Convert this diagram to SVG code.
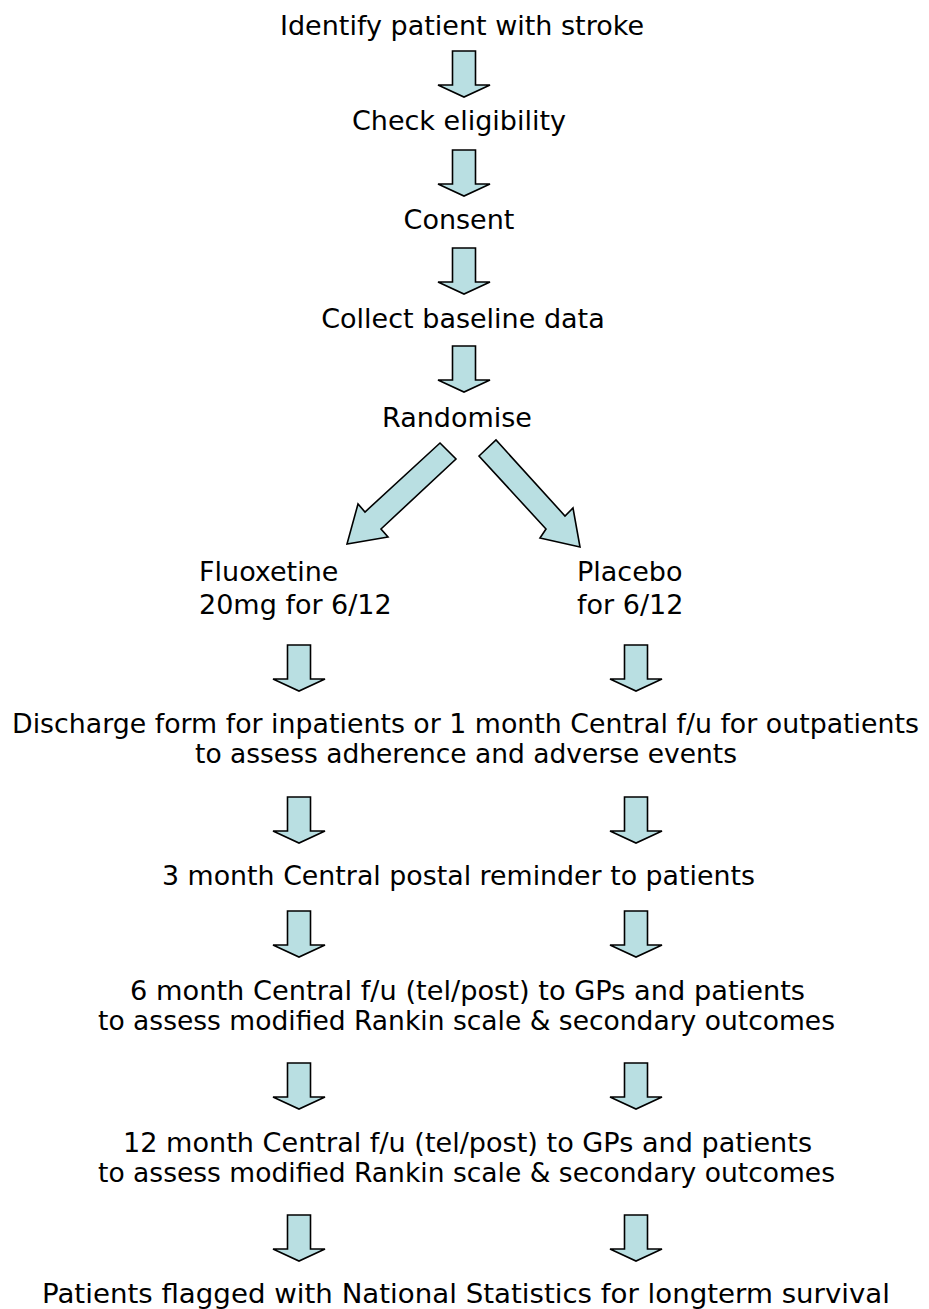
<svg xmlns="http://www.w3.org/2000/svg" xmlns:xlink="http://www.w3.org/1999/xlink" width="929" height="1309" viewBox="0 0 929 1309">
<style>
  text { font-family: "DejaVu Sans", Verdana, sans-serif; font-size: 27px; fill: #000; }
  .c { text-anchor: middle; }
  .arr { fill: #b9dfe2; stroke: #000; stroke-width: 1.6; stroke-linejoin: miter; }
</style>
<defs>
  <polygon id="down" points="-11.5,0 11.5,0 11.5,34 26,34 0,46 -26,34 -11.5,34"/>
</defs>
<rect width="929" height="1309" fill="#fff"/>
<g id="connectors">
  <use xlink:href="#down" class="arr" x="464" y="51"/>
  <use xlink:href="#down" class="arr" x="464" y="150"/>
  <use xlink:href="#down" class="arr" x="464" y="248"/>
  <use xlink:href="#down" class="arr" x="464" y="346"/>
  <polygon class="arr" points="440,443 456,459 381,529 388,537 347,544 358,504 365,512"/>
  <polygon class="arr" points="479,456 496,440 565,516 573,508 580,547 540,538 546,529"/>
  <use xlink:href="#down" class="arr" x="299" y="645"/>
  <use xlink:href="#down" class="arr" x="636" y="645"/>
  <use xlink:href="#down" class="arr" x="299" y="797"/>
  <use xlink:href="#down" class="arr" x="636" y="797"/>
  <use xlink:href="#down" class="arr" x="299" y="911"/>
  <use xlink:href="#down" class="arr" x="636" y="911"/>
  <use xlink:href="#down" class="arr" x="299" y="1063"/>
  <use xlink:href="#down" class="arr" x="636" y="1063"/>
  <use xlink:href="#down" class="arr" x="299" y="1215"/>
  <use xlink:href="#down" class="arr" x="636" y="1215"/>
</g>
<g id="identify"><text class="c" x="462" y="35">Identify patient with stroke</text></g>
<g id="eligibility"><text class="c" x="459" y="130">Check eligibility</text></g>
<g id="consent"><text class="c" x="459" y="229">Consent</text></g>
<g id="baseline"><text class="c" x="463" y="328">Collect baseline data</text></g>
<g id="randomise"><text class="c" x="457" y="427">Randomise</text></g>
<g id="fluoxetine"><text x="199" y="581">Fluoxetine</text><text x="199" y="614">20mg for 6/12</text></g>
<g id="placebo"><text x="577" y="581">Placebo</text><text x="577" y="614">for 6/12</text></g>
<g id="discharge"><text x="12" y="733" textLength="907" lengthAdjust="spacingAndGlyphs">Discharge form for inpatients or 1 month Central f/u for outpatients</text><text x="195" y="763" textLength="542" lengthAdjust="spacingAndGlyphs">to assess adherence and adverse events</text></g>
<g id="month3"><text x="162" y="885" textLength="593" lengthAdjust="spacingAndGlyphs">3 month Central postal reminder to patients</text></g>
<g id="month6"><text x="130" y="1000" textLength="675" lengthAdjust="spacingAndGlyphs">6 month Central f/u (tel/post) to GPs and patients</text><text x="98" y="1030" textLength="737" lengthAdjust="spacingAndGlyphs">to assess modified Rankin scale &amp; secondary outcomes</text></g>
<g id="month12"><text x="123" y="1152" textLength="689" lengthAdjust="spacingAndGlyphs">12 month Central f/u (tel/post) to GPs and patients</text><text x="98" y="1182" textLength="737" lengthAdjust="spacingAndGlyphs">to assess modified Rankin scale &amp; secondary outcomes</text></g>
<g id="survival"><text x="42" y="1303" textLength="848" lengthAdjust="spacingAndGlyphs">Patients flagged with National Statistics for longterm survival</text></g>
</svg>
